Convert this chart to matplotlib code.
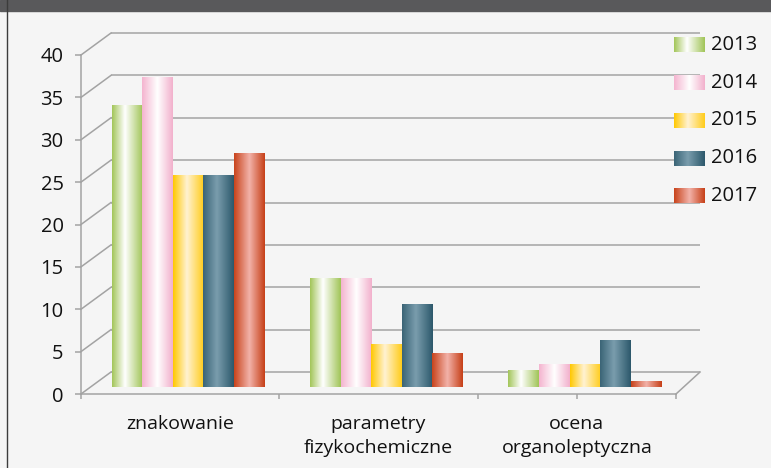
import numpy as np
import matplotlib
matplotlib.use("Agg")
import matplotlib.pyplot as plt
from matplotlib.colors import LinearSegmentedColormap
from matplotlib.transforms import Affine2D, IdentityTransform
from matplotlib.lines import Line2D
from matplotlib.patches import Rectangle

plt.rcParams['font.family'] = ['Open Sans', 'DejaVu Sans']

# --- data ---
categories = ["znakowanie", "parametry\nfizykochemiczne", "ocena\norganoleptyczna"]
years = ["2013", "2014", "2015", "2016", "2017"]
v2013 = [33.2, 12.8, 2.0]
v2014 = [36.5, 12.8, 2.7]
v2015 = [25.0, 5.0, 2.7]
v2016 = [25.0, 9.7, 5.5]
v2017 = [27.6, 4.0, 0.6]
series = [v2013, v2014, v2015, v2016, v2017]
yticks = np.arange(0, 41, 5)

# gradients (edge -> highlight -> edge), one per year
grad_stops = [
    [(0, '#a2c558'), (0.42, '#ffffff'), (1, '#a0c456')],
    [(0, '#f4b4cf'), (0.5, '#ffffff'), (1, '#f2b0cc')],
    [(0, '#ffc800'), (0.45, '#fff2d2'), (1, '#ffcc1a')],
    [(0, '#3a6476'), (0.45, '#7a9dad'), (1, '#2c586b')],
    [(0, '#c8431b'), (0.5, '#f2b2a9'), (1, '#c63f17')],
]
cmaps = [LinearSegmentedColormap.from_list(f"g{i}", s) for i, s in enumerate(grad_stops)]
ramp = np.linspace(0, 1, 256).reshape(1, -1)

GRID = '#a3a3a3'
W, H = 771, 468

fig = plt.figure(figsize=(W / 100, H / 100), dpi=100, facecolor='#f5f5f5')

# front plane of the box (y axis lives here)
ax = fig.add_axes([81 / W, (H - 394) / H, 595 / W, 339 / H])
ax.set_facecolor('none')
ax.set_xlim(0, 3)
ax.set_ylim(0, 40)


def plane(dx, dy, sx=1.0):
    # shifted copy of the front plane, in pixels
    x0, y0 = ax.transData.transform((0, 0))
    return ax.transData + Affine2D().translate(-x0, -y0).scale(sx, 1).translate(x0 + dx, y0 + dy)


t_back = plane(30, 22, 0.99)
t_bars = plane(8, 7)

# back wall gridlines
ax.hlines(yticks, 0, 3, colors=GRID, lw=1.1, transform=t_back, clip_on=False, zorder=1)
# left wall diagonals and right floor edge
for v in yticks:
    p1 = ax.transData.transform((0, v))
    p2 = t_back.transform((0, v))
    fig.add_artist(Line2D([p1[0], p2[0]], [p1[1], p2[1]], color=GRID, lw=1.1,
                          transform=IdentityTransform()))
p1 = ax.transData.transform((3, 0))
p2 = t_back.transform((3, 0))
fig.add_artist(Line2D([p1[0], p2[0]], [p1[1], p2[1]], color=GRID, lw=1.1,
                      transform=IdentityTransform()))

# bars with horizontal gradient
bw = 0.154
xc = np.arange(len(categories)) + 0.5
for j, vals in enumerate(series):
    bars = ax.bar(xc + (j - 2) * bw, vals, width=bw, color='none', edgecolor='none',
                  transform=t_bars, clip_on=False, zorder=3)
    for b in bars:
        x, y = b.get_x(), b.get_y()
        ax.imshow(ramp, cmap=cmaps[j], extent=(x, x + b.get_width(), y, y + b.get_height()),
                  aspect='auto', interpolation='bilinear', transform=t_bars,
                  clip_on=False, zorder=3)

ax.set_xlim(0, 3)
ax.set_ylim(0, 40)

# axes styling
for s in ['top', 'right']:
    ax.spines[s].set_visible(False)
for s in ['left', 'bottom']:
    ax.spines[s].set_color(GRID)
    ax.spines[s].set_linewidth(1.1)
ax.set_yticks(yticks)
ax.tick_params(axis='y', length=4.5, width=1.1, color=GRID, pad=8, labelsize=14.5,
               labelcolor='#111111')
ax.xaxis.remove_overlapping_locs = False
ax.set_xticks(xc)
ax.set_xticklabels(categories, fontsize=14, linespacing=1.45, color='#111111')
ax.tick_params(axis='x', which='major', length=0, pad=15)
ax.set_xticks([0, 1, 2, 2.5, 3], minor=True)
ax.tick_params(axis='x', which='minor', length=3.8, width=1.1, color=GRID)

# legend
for i, yr in enumerate(years):
    yc = 45 + 37.7 * i
    ax.imshow(ramp, cmap=cmaps[i],
              extent=(674 / W, 705 / W, (H - yc - 7.5) / H, (H - yc + 7.5) / H),
              aspect='auto', interpolation='bilinear', transform=fig.transFigure,
              clip_on=False, zorder=5)
    fig.text(711 / W, (H - yc) / H, yr, fontsize=14.5, va='center', ha='left',
             color='#111111')

ax.set_xlim(0, 3)
ax.set_ylim(0, 40)

# frame decoration: dark top band and left border
fig.patches.append(Rectangle((0, 1 - 11 / H), 1, 11 / H, transform=fig.transFigure,
                             color='#59595b', zorder=0))
fig.add_artist(Line2D([6.5 / W, 6.5 / W], [0, 1], color='#3c3c3c', lw=1,
                      transform=fig.transFigure))

fig.savefig('out.png', dpi=100, facecolor=fig.get_facecolor())
